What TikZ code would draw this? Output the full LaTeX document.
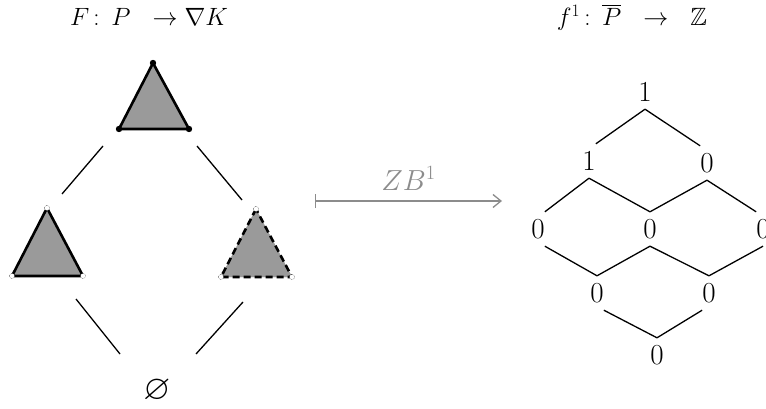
\RequirePackage{fix-cm}
\documentclass[tikz,border=0pt]{standalone}
\usepackage{amssymb}
\usetikzlibrary{arrows.meta}
\definecolor{trifill}{HTML}{9A9A9A}
\definecolor{arrgray}{HTML}{8C8C8C}
\tikzset{
  tri/.style={fill=trifill, draw=black, line width=2.6pt, line join=round},
  tridash/.style={fill=trifill, draw=black, line width=2.6pt, dash pattern=on 7pt off 4pt},
  hasse/.style={line width=1.3pt},
  closedv/.style={fill=black, draw=none},
  openv/.style={fill=white, draw=black, line width=0.4pt, densely dotted},
  val/.style={font=\fontsize{29}{33}\selectfont, minimum height=34pt, inner sep=0pt},
  ttl/.style={font=\fontsize{25}{30}\selectfont},
}
\begin{document}
\begin{tikzpicture}[x=1pt,y=-1pt]
\useasboundingbox (0,0) rectangle (766,409);
% titles
\node[ttl] (ltitle) at (149,17) {$F\,\colon\ P\ \ \to\nabla K$};
\node[ttl] (rtitle) at (632,17) {$f^1\,\colon\ \overline{P}\ \ \to\ \ \mathbb{Z}$};
% top triangle
\coordinate (ta) at (153,63);
\coordinate (tl) at (119,129);
\coordinate (tr) at (189,129);
\draw[tri] (ta) -- (tl) -- (tr) -- cycle;
\foreach \p in {ta,tl,tr} \fill[closedv] (\p) circle (3.2);
% left triangle
\coordinate (la) at (47,208);
\coordinate (ll) at (12,276);
\coordinate (lr) at (83,276);
\draw[tri] (la) -- (ll) -- (lr) -- cycle;
\foreach \p in {la,ll,lr} \draw[openv] (\p) circle (2.6);
% right triangle
\coordinate (ra) at (256,209);
\coordinate (rl) at (221,277);
\coordinate (rr) at (292,277);
\fill[trifill] (ra) -- (rl) -- (rr) -- cycle;
\draw[tridash] (ra) -- (rl) -- (rr) -- cycle;
\foreach \p in {ra,rl,rr} \draw[openv] (\p) circle (2.6);
% empty set
\node[font=\fontsize{24.88}{28}\selectfont] (empty) at (157,391) {\scalebox{1.4}{$\varnothing$}};
% hasse lines left
\coordinate (c1a) at (103,146); \coordinate (c1b) at (62,194);
\coordinate (c2a) at (197,146); \coordinate (c2b) at (242,200);
\coordinate (c3a) at (76,299);  \coordinate (c3b) at (120,354);
\coordinate (c4a) at (243,302); \coordinate (c4b) at (196,354);
\draw[hasse] (c1a) -- (c1b);
\draw[hasse] (c2a) -- (c2b);
\draw[hasse] (c3a) -- (c3b);
\draw[hasse] (c4a) -- (c4b);
% map arrow
\coordinate (as) at (315,201);
\coordinate (ae) at (502,201);
\draw[arrgray, line width=1.3pt, {Bar[width=14pt,line width=1.3pt]}-{Straight Barb[length=8pt,width=13pt,line width=1.3pt]}] (as) -- (ae)
  node[midway, above=7pt, font=\fontsize{29}{33}\selectfont, text=arrgray] (zb) {$ZB^1$};
% lattice
\node[val] (n1) at (645,92) {1};
\node[val] (n21) at (589,161) {1};
\node[val] (n22) at (707,163) {0};
\node[val] (n31) at (538,229) {0};
\node[val] (n32) at (650,229) {0};
\node[val] (n33) at (763,229) {0};
\node[val] (n41) at (597,293) {0};
\node[val] (n42) at (709,293) {0};
\node[val] (n5) at (657,355) {0};
\draw[hasse] (n1.south) -- (n21.north east);
\draw[hasse] (n1.south) -- (n22.north west);
\draw[hasse] (n21.south) -- (n31.north east);
\draw[hasse] (n21.south) -- (n32.north);
\draw[hasse] (n22.south) -- (n32.north);
\draw[hasse] (n22.south) -- (n33.north west);
\draw[hasse] (n31.south east) -- (n41.north);
\draw[hasse] (n32.south) -- (n41.north);
\draw[hasse] (n32.south) -- (n42.north);
\draw[hasse] (n33.south) -- (n42.north);
\draw[hasse] (n41.south east) -- (n5.north);
\draw[hasse] (n42.south west) -- (n5.north);
\end{tikzpicture}
\end{document}
